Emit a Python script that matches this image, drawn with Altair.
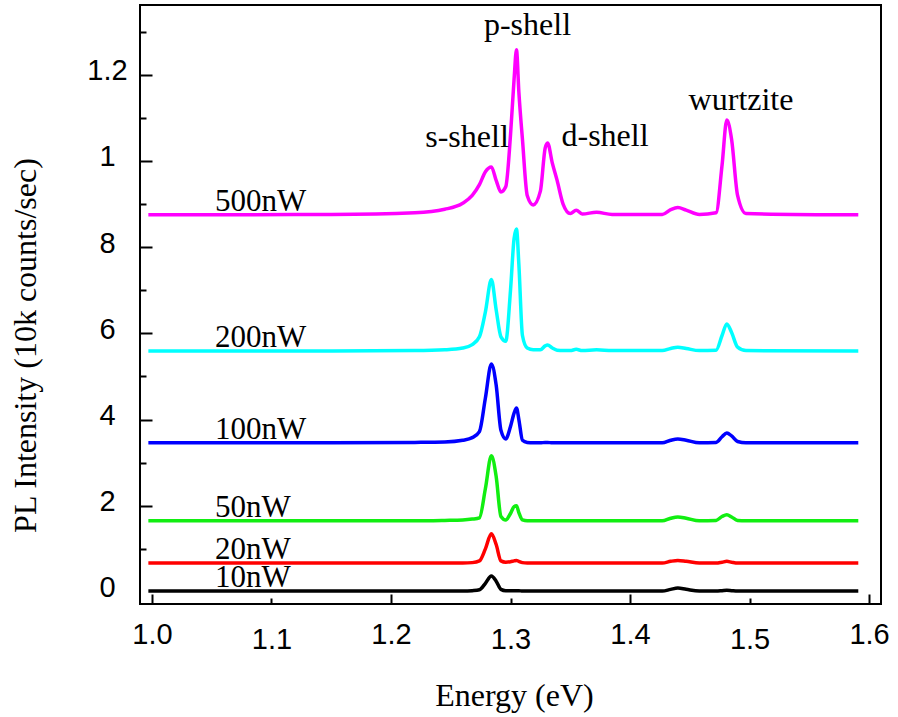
import altair as alt
import pandas as pd

# ---- data ----
energy = [0.997, 1.150, 1.220, 1.245, 1.260, 1.268, 1.274, 1.279, 1.284, 1.288,
          1.292, 1.296, 1.300, 1.303, 1.305, 1.307, 1.310, 1.314, 1.319, 1.325,
          1.329, 1.331, 1.335, 1.339, 1.344, 1.350, 1.355, 1.360, 1.372, 1.385,
          1.427, 1.434, 1.440, 1.447, 1.458, 1.472, 1.477, 1.481, 1.485, 1.490,
          1.497, 1.591]

p500 = [8.75, 8.76, 8.80, 8.88, 9.02, 9.20, 9.45, 9.75, 9.86, 9.55,
        9.28, 9.40, 10.60, 11.90, 12.58, 11.60, 10.50, 9.20, 8.98, 9.30,
        10.30, 10.42, 9.95, 9.55, 9.00, 8.78, 8.86, 8.77, 8.81, 8.76,
        8.76, 8.87, 8.92, 8.86, 8.76, 8.80, 9.90, 10.95, 10.50, 9.20,
        8.78, 8.75]
p200 = [5.59, 5.59, 5.60, 5.62, 5.66, 5.74, 5.92, 6.50, 7.25, 6.55,
        5.92, 5.82, 7.00, 8.20, 8.42, 7.60, 5.95, 5.66, 5.62, 5.62,
        5.71, 5.73, 5.66, 5.61, 5.60, 5.60, 5.63, 5.60, 5.62, 5.60,
        5.60, 5.65, 5.68, 5.65, 5.60, 5.61, 5.95, 6.22, 6.02, 5.68,
        5.60, 5.59]
p100 = [3.46, 3.46, 3.47, 3.48, 3.52, 3.58, 3.72, 4.50, 5.29, 4.80,
        3.75, 3.55, 3.84, 4.15, 4.27, 4.00, 3.52, 3.47, 3.46, 3.46,
        3.47, 3.47, 3.46, 3.46, 3.46, 3.46, 3.46, 3.46, 3.46, 3.46,
        3.46, 3.52, 3.55, 3.52, 3.46, 3.47, 3.60, 3.69, 3.62, 3.49,
        3.46, 3.46]
p50 = [1.65, 1.65, 1.65, 1.66, 1.67, 1.69, 1.72, 2.40, 3.16, 2.68,
       1.75, 1.67, 1.82, 1.98, 2.00, 1.84, 1.67, 1.65, 1.65, 1.65,
       1.65, 1.65, 1.65, 1.65, 1.65, 1.65, 1.65, 1.65, 1.65, 1.65,
       1.65, 1.71, 1.74, 1.71, 1.65, 1.66, 1.75, 1.79, 1.74, 1.66,
       1.65, 1.65]
p20 = [0.67, 0.67, 0.67, 0.67, 0.67, 0.68, 0.72, 1.00, 1.35, 1.10,
       0.72, 0.69, 0.70, 0.72, 0.73, 0.71, 0.68, 0.67, 0.67, 0.67,
       0.67, 0.67, 0.67, 0.67, 0.67, 0.67, 0.67, 0.67, 0.67, 0.67,
       0.67, 0.71, 0.73, 0.71, 0.67, 0.67, 0.69, 0.71, 0.69, 0.67,
       0.67, 0.67]
p10 = [0.02, 0.02, 0.02, 0.02, 0.02, 0.03, 0.05, 0.20, 0.37, 0.25,
       0.06, 0.03, 0.03, 0.03, 0.03, 0.03, 0.02, 0.02, 0.02, 0.02,
       0.02, 0.02, 0.02, 0.02, 0.02, 0.02, 0.02, 0.02, 0.02, 0.02,
       0.02, 0.06, 0.09, 0.06, 0.02, 0.02, 0.03, 0.04, 0.03, 0.02,
       0.02, 0.02]

series_names = ["500nW", "200nW", "100nW", "50nW", "20nW", "10nW"]
series_values = [p500, p200, p100, p50, p20, p10]
series_colors = ["#ff00ff", "#00ffff", "#0000ff", "#11ee11", "#ff0000", "#000000"]

x_tick_values = [1.0, 1.1, 1.2, 1.3, 1.4, 1.5, 1.6]
y_label_values = [0, 2, 4, 6, 8, 10, 12]
y_tick_values = [1, 2, 3, 4, 5, 6, 7, 8, 9, 10, 11, 12, 13]

peak_labels = ["s-shell", "p-shell", "d-shell", "wurtzite"]
peak_label_energy = [1.2636, 1.3142, 1.3791, 1.4929]
peak_label_level = [10.32, 12.92, 10.35, 11.18]

# ---- tables ----
rows = []
for name, vals in zip(series_names, series_values):
    for e, v in zip(energy, vals):
        rows.append({"series": name, "energy": e, "intensity": v})
df = pd.DataFrame(rows)

label_df = pd.DataFrame({
    "series": series_names,
    "energy": [1.0527] * len(series_names),
    "intensity": [v[0] for v in series_values],
})
peak_df = pd.DataFrame({
    "label": peak_labels,
    "energy": peak_label_energy,
    "intensity": peak_label_level,
})

W, H = 741, 599
xscale = alt.Scale(domain=[0.990, 1.610], nice=False, zero=False)
yscale = alt.Scale(domain=[-0.28, 13.62], nice=False, zero=False)
SERIF = "Liberation Serif"
SANS = "Liberation Sans"

lines = alt.Chart(df).mark_line(strokeWidth=3.5, interpolate="monotone").encode(
    x=alt.X("energy:Q", scale=xscale, axis=alt.Axis(
        values=x_tick_values, format=".1f", ticks=False, domain=False, grid=False,
        labelFont=SANS, labelFontSize=29, labelColor="black", labelBaseline="top",
        labelPadding={"condition": {"test": "round(datum.value*10) % 2 == 1", "value": 21}, "value": 16},
        title="Energy (eV)", titleFont=SERIF, titleFontSize=32, titleFontWeight="normal",
        titleColor="black", titleX=374, titleY=101, titleBaseline="alphabetic", titleAlign="center")),
    y=alt.Y("intensity:Q", scale=yscale, axis=alt.Axis(
        values=y_label_values,
        labelExpr="datum.value == 10 ? '1' : datum.value == 12 ? '1.2' : datum.label",
        ticks=False, domain=False, grid=False, labelAlign="center", labelBaseline="middle",
        labelPadding=33, labelOffset=-4, labelFont=SANS, labelFontSize=29, labelColor="black",
        title="PL Intensity (10k counts/sec)", titleFont=SERIF, titleFontSize=32,
        titleFontWeight="normal", titleColor="black", titleX=-115, titleY=340,
        titleAlign="center", titleBaseline="middle")),
    color=alt.Color("series:N", scale=alt.Scale(domain=series_names, range=series_colors), legend=None),
)

tick_layer = alt.Chart(df).mark_point(opacity=0).encode(
    x=alt.X("energy:Q", scale=xscale, axis=alt.Axis(
        orient="top", offset=-H, values=x_tick_values, labels=False, domain=False, grid=False,
        ticks=True, tickColor="black", tickWidth=2,
        tickSize={"condition": {"test": "round(datum.value*10) % 2 == 0", "value": 10}, "value": 6},
        title="")),
    y=alt.Y("intensity:Q", scale=yscale, axis=alt.Axis(
        orient="right", offset=-W, values=y_tick_values, labels=False, domain=False, grid=False,
        ticks=True, tickColor="black", tickWidth=2,
        tickSize={"condition": {"test": "datum.value % 2 == 0", "value": 12}, "value": 6},
        title="")),
)

series_text = alt.Chart(label_df).mark_text(
    align="left", baseline="alphabetic", dy=-4, font=SERIF, fontSize=31, color="black"
).encode(
    x=alt.X("energy:Q", scale=xscale, axis=None),
    y=alt.Y("intensity:Q", scale=yscale, axis=None),
    text="series:N",
)

peak_text = alt.Chart(peak_df).mark_text(
    align="center", baseline="alphabetic", font=SERIF, fontSize=32, color="black"
).encode(
    x=alt.X("energy:Q", scale=xscale, axis=None),
    y=alt.Y("intensity:Q", scale=yscale, axis=None),
    text="label:N",
)

chart = alt.layer(lines, tick_layer, series_text, peak_text).resolve_axis(
    x="independent", y="independent"
).properties(
    width=W, height=H,
    autosize=alt.AutoSizeParams(type="none"),
    padding={"left": 140, "top": 5, "right": 17, "bottom": 113},
    background="white",
).configure_view(stroke="black", strokeWidth=2)

chart.save("out.html", embed_options={"renderer": "svg", "actions": False})
